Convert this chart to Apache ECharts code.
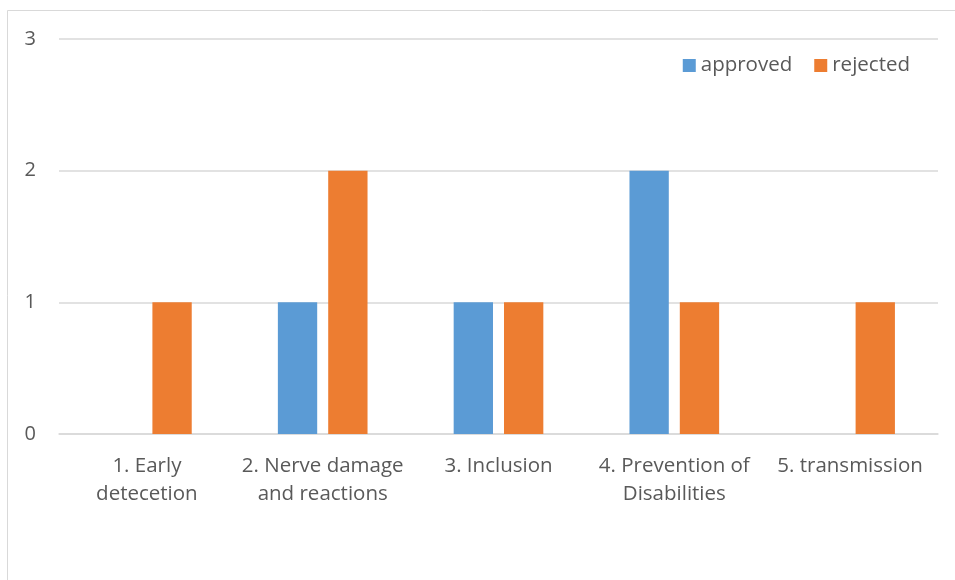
<!DOCTYPE html>
<html>
<head>
<meta charset="utf-8">
<script src="https://cdn.jsdelivr.net/npm/echarts@6/dist/echarts.min.js"></script>
<style>html,body{margin:0;padding:0;background:#fff;}#c{width:955px;height:580px;}</style>
</head>
<body>
<div id="c"></div>
<script>
var categories = ["1. Early\ndetecetion", "2. Nerve damage\nand reactions", "3. Inclusion", "4. Prevention of\nDisabilities", "5. transmission"];
var approved = [0, 1, 1, 2, 0];
var rejected = [1, 2, 1, 1, 1];
var yTicks = [0, 1, 2, 3];

var FONT = '"Open Sans", "Liberation Sans", sans-serif';
var chart = echarts.init(document.getElementById('c'), null, {renderer: 'canvas'});
chart.setOption({
  backgroundColor: '#ffffff',
  animation: false,
  textStyle: {fontFamily: FONT},
  graphic: [{
    type: 'rect', shape: {x: 7.5, y: 10.5, width: 1000, height: 1000},
    style: {fill: 'none', stroke: '#D9D9D9', lineWidth: 1}, silent: true
  }],
  legend: {
    right: 40, top: 50,
    itemWidth: 13, itemHeight: 13, itemGap: 22,
    icon: 'rect',
    textStyle: {fontSize: 20.5, color: '#595959', fontFamily: FONT},
    data: ['approved', 'rejected']
  },
  grid: {left: 59, right: 17, top: 39, bottom: 146, containLabel: false},
  xAxis: {
    type: 'category', data: categories,
    axisLine: {lineStyle: {color: '#D9D9D9', width: 1.5}},
    axisTick: {show: false},
    axisLabel: {interval: 0, fontSize: 20.5, color: '#595959', lineHeight: 28, margin: 18, fontFamily: FONT}
  },
  yAxis: {
    type: 'value', min: yTicks[0], max: yTicks[yTicks.length - 1], interval: 1,
    axisLine: {show: false}, axisTick: {show: false},
    axisLabel: {fontSize: 20, color: '#595959', margin: 23, fontFamily: FONT},
    splitLine: {lineStyle: {color: '#D9D9D9', width: 1.5}}
  },
  series: [
    {name: 'approved', type: 'bar', data: approved, barGap: '28%', barCategoryGap: '49%',
     itemStyle: {color: '#5B9BD5'}},
    {name: 'rejected', type: 'bar', data: rejected, barGap: '28%', barCategoryGap: '49%',
     itemStyle: {color: '#ED7D31'}}
  ]
});
</script>
</body>
</html>
